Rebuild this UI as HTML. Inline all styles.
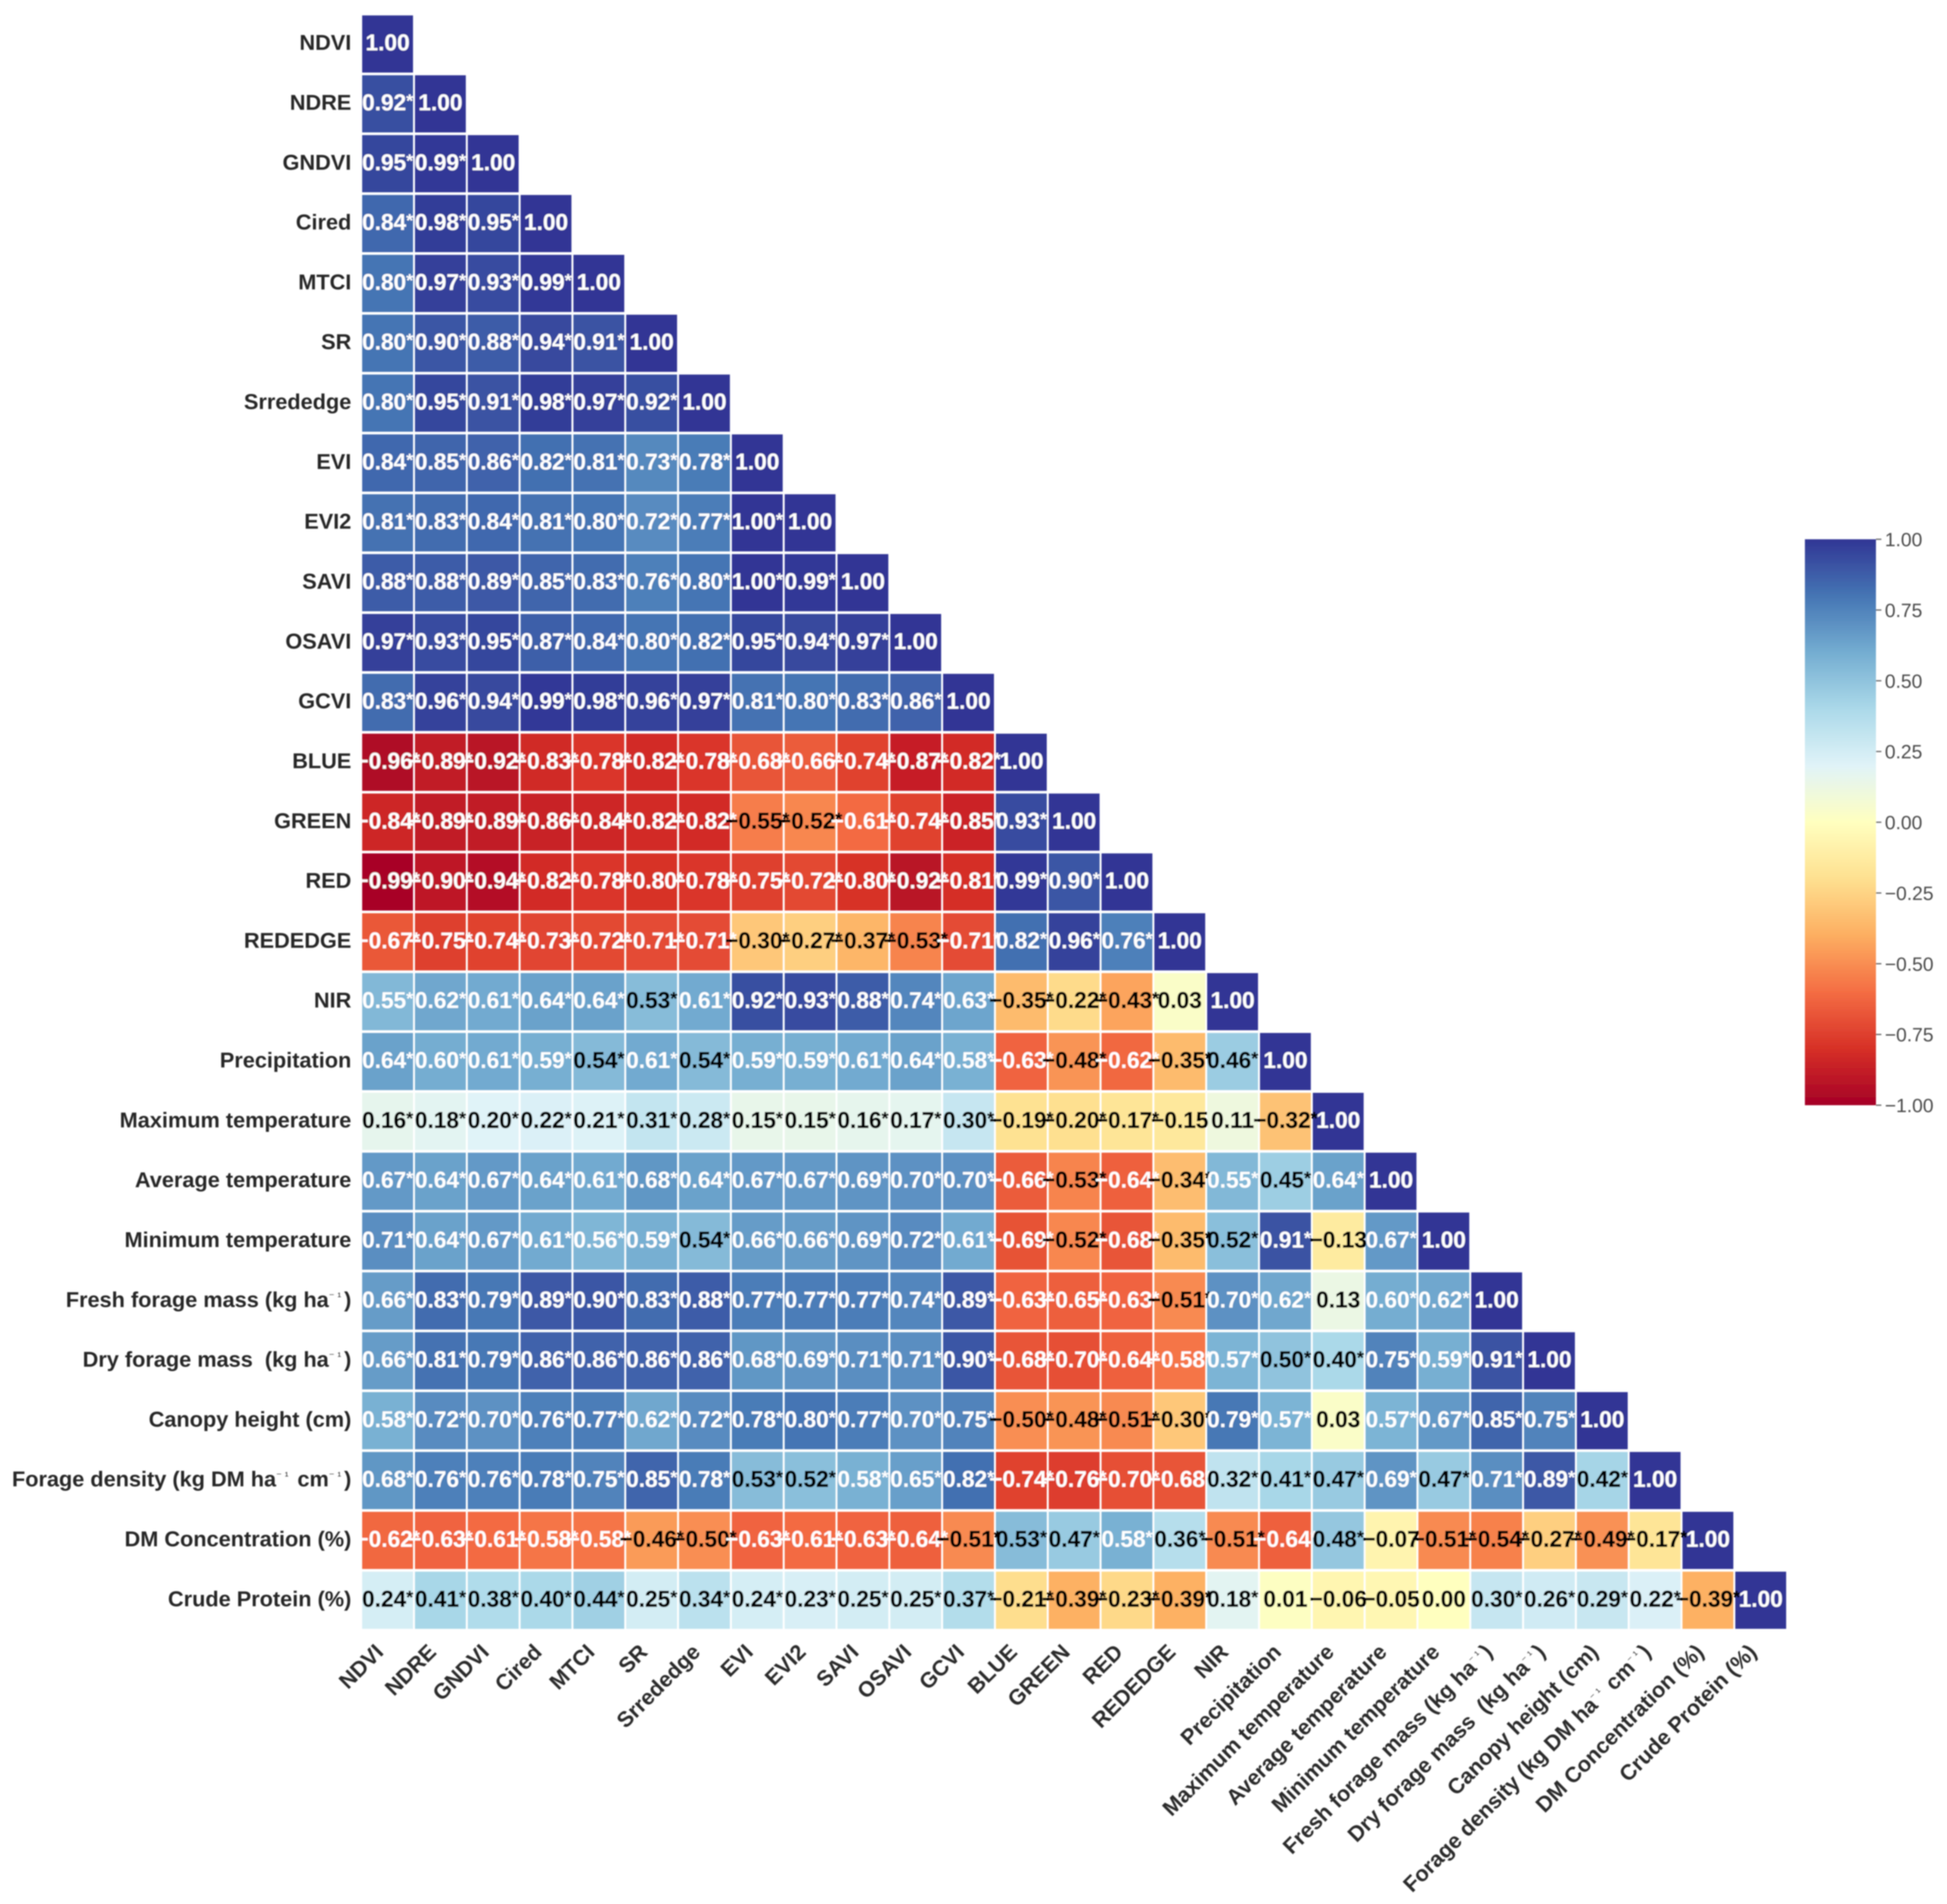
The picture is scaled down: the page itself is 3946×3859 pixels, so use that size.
<!DOCTYPE html>
<html lang="en">
<head>
<meta charset="utf-8">
<title>Correlation heatmap</title>
<style>
  html, body { margin: 0; padding: 0; background: #ffffff; }
  body { width: 3946px; height: 3859px; overflow: hidden; }
  svg { display: block; }
  text { font-family: "Liberation Sans", "DejaVu Sans", sans-serif; white-space: pre; }
  .val { font-size: 46px; font-weight: bold; text-anchor: middle; }
  .ylab { font-size: 44px; font-weight: bold; text-anchor: end; fill: #262626; }
  .xlab { font-size: 44px; font-weight: bold; text-anchor: end; fill: #2c2c2c; }
  .cbt { font-size: 39px; fill: #4a4a4a; }
</style>
</head>
<body>
<svg id="chart" xmlns="http://www.w3.org/2000/svg" width="3946" height="3859" viewBox="0 0 3946 3859">
  <defs>
    <filter id="soft" x="0" y="0" width="100%" height="100%" filterUnits="userSpaceOnUse" primitiveUnits="userSpaceOnUse">
      <feGaussianBlur stdDeviation="1.3"/>
    </filter>
    <linearGradient id="cbar-gradient" x1="0" y1="1" x2="0" y2="0"></linearGradient>
  </defs>
  <rect x="0" y="0" width="3946" height="3859" fill="#ffffff"/>
  <g id="root" filter="url(#soft)">
    <g id="cells"></g>
    <g id="values"></g>
    <g id="ylabels"></g>
    <g id="xlabels"></g>
    <g id="colorbar"></g>
  </g>
</svg>
<script>
var variables = ["NDVI","NDRE","GNDVI","Cired","MTCI","SR","Srrededge","EVI","EVI2","SAVI","OSAVI","GCVI","BLUE","GREEN","RED","REDEDGE","NIR","Precipitation","Maximum temperature","Average temperature","Minimum temperature","Fresh forage mass (kg ha\u207B\u00B9)","Dry forage mass  (kg ha\u207B\u00B9)","Canopy height (cm)","Forage density (kg DM ha\u207B\u00B9 cm\u207B\u00B9)","DM Concentration (%)","Crude Protein (%)"];

var correlations = [
[1],
[.92,1],
[.95,.99,1],
[.84,.98,.95,1],
[.80,.97,.93,.99,1],
[.80,.90,.88,.94,.91,1],
[.80,.95,.91,.98,.97,.92,1],
[.84,.85,.86,.82,.81,.73,.78,1],
[.81,.83,.84,.81,.80,.72,.77,1,1],
[.88,.88,.89,.85,.83,.76,.80,1,.99,1],
[.97,.93,.95,.87,.84,.80,.82,.95,.94,.97,1],
[.83,.96,.94,.99,.98,.96,.97,.81,.80,.83,.86,1],
[-.96,-.89,-.92,-.83,-.78,-.82,-.78,-.68,-.66,-.74,-.87,-.82,1],
[-.84,-.89,-.89,-.86,-.84,-.82,-.82,-.55,-.52,-.61,-.74,-.85,.93,1],
[-.99,-.90,-.94,-.82,-.78,-.80,-.78,-.75,-.72,-.80,-.92,-.81,.99,.90,1],
[-.67,-.75,-.74,-.73,-.72,-.71,-.71,-.30,-.27,-.37,-.53,-.71,.82,.96,.76,1],
[.55,.62,.61,.64,.64,.53,.61,.92,.93,.88,.74,.63,-.35,-.22,-.43,.03,1],
[.64,.60,.61,.59,.54,.61,.54,.59,.59,.61,.64,.58,-.63,-.48,-.62,-.35,.46,1],
[.16,.18,.20,.22,.21,.31,.28,.15,.15,.16,.17,.30,-.19,-.20,-.17,-.15,.11,-.32,1],
[.67,.64,.67,.64,.61,.68,.64,.67,.67,.69,.70,.70,-.66,-.53,-.64,-.34,.55,.45,.64,1],
[.71,.64,.67,.61,.56,.59,.54,.66,.66,.69,.72,.61,-.69,-.52,-.68,-.35,.52,.91,-.13,.67,1],
[.66,.83,.79,.89,.90,.83,.88,.77,.77,.77,.74,.89,-.63,-.65,-.63,-.51,.70,.62,.13,.60,.62,1],
[.66,.81,.79,.86,.86,.86,.86,.68,.69,.71,.71,.90,-.68,-.70,-.64,-.58,.57,.50,.40,.75,.59,.91,1],
[.58,.72,.70,.76,.77,.62,.72,.78,.80,.77,.70,.75,-.50,-.48,-.51,-.30,.79,.57,.03,.57,.67,.85,.75,1],
[.68,.76,.76,.78,.75,.85,.78,.53,.52,.58,.65,.82,-.74,-.76,-.70,-.68,.32,.41,.47,.69,.47,.71,.89,.42,1],
[-.62,-.63,-.61,-.58,-.58,-.46,-.50,-.63,-.61,-.63,-.64,-.51,.53,.47,.58,.36,-.51,-.64,.48,-.07,-.51,-.54,-.27,-.49,-.17,1],
[.24,.41,.38,.40,.44,.25,.34,.24,.23,.25,.25,.37,-.21,-.39,-.23,-.39,.18,.01,-.06,-.05,0,.30,.26,.29,.22,-.39,1]
];

var unstarredCells = [[16,15],[18,15],[18,16],[20,18],[21,18],[23,18],[25,19],[26,17],[26,18],[26,19],[26,20]];

var colorStops = ["#a50026","#d73027","#f46d43","#fdae61","#fee090","#ffffbf","#e0f3f8","#abd9e9","#74add1","#4575b4","#313695"];

var colorbarTicks = [1, 0.75, 0.5, 0.25, 0, -0.25, -0.5, -0.75, -1];

var NS = "http://www.w3.org/2000/svg";
var plot = { left: 732, right: 3622, top: 28.5, bottom: 3304 };
var bar = { left: 3658, right: 3802, top: 1093, bottom: 2240 };
var count = variables.length;
var colW = (plot.right - plot.left) / count;
var rowH = (plot.bottom - plot.top) / count;

function xBand(i) { return plot.left + i * colW; }
function yBand(i) { return plot.top + i * rowH; }
function barY(v) { return bar.top + (1 - v) / 2 * (bar.bottom - bar.top); }

function hexToRgb(h) {
  return [parseInt(h.substr(1, 2), 16), parseInt(h.substr(3, 2), 16), parseInt(h.substr(5, 2), 16)];
}
function colorFor(v) {
  var t = (Math.max(-1, Math.min(1, v)) + 1) / 2 * (colorStops.length - 1);
  var i = Math.min(colorStops.length - 2, Math.floor(t));
  var f = t - i;
  var a = hexToRgb(colorStops[i]);
  var b = hexToRgb(colorStops[i + 1]);
  return "rgb(" + Math.round(a[0] + (b[0] - a[0]) * f) + "," + Math.round(a[1] + (b[1] - a[1]) * f) + "," + Math.round(a[2] + (b[2] - a[2]) * f) + ")";
}
function formatValue(v) {
  var s = Math.abs(v).toFixed(2);
  return v < 0 ? "\u2212" + s : s;
}
function isUnstarred(r, c) {
  return r === c || unstarredCells.some(function (p) { return p[0] === r && p[1] === c; });
}
function slug(s) {
  return s.replace(/[\u207B\u00B9]/g, "").toLowerCase().replace(/[^a-z0-9]+/g, "-").replace(/^-|-$/g, "");
}
function svgEl(tag, parent, attrs) {
  var el = document.createElementNS(NS, tag);
  for (var k in attrs) el.setAttribute(k, attrs[k]);
  parent.appendChild(el);
  return el;
}
function fillLabel(el, name) {
  var parts = name.split("\u207B\u00B9");
  parts.forEach(function (part, i) {
    var run = svgEl("tspan", el, i > 0 ? { dy: 14 } : {});
    run.textContent = part;
    if (i < parts.length - 1) {
      var sup = svgEl("tspan", el, { dy: -14, style: "font-size:22px;font-weight:normal;letter-spacing:6px" });
      sup.textContent = "\u207B\u00B9";
    }
  });
}

var cellsG = document.getElementById("cells");
var valuesG = document.getElementById("values");
var yG = document.getElementById("ylabels");
var xG = document.getElementById("xlabels");
var cbG = document.getElementById("colorbar");

correlations.forEach(function (row, r) {
  row.forEach(function (v, c) {
    var rect = svgEl("rect", cellsG, {
      x: xBand(c) + 2,
      y: yBand(r) + 2.75,
      width: colW - 4,
      height: rowH - 5.5,
      fill: colorFor(v)
    });
    
    
  });
});

correlations.forEach(function (row, r) {
  row.forEach(function (v, c) {
    var isWhite = (v >= 0.55 || v <= -0.57);
    var label = svgEl("text", valuesG, {
      "class": "val",
      x: xBand(c) + colW / 2,
      y: yBand(r) + rowH / 2 + 13,
      fill: isWhite ? "#ffffff" : "#000000",
      stroke: isWhite ? "none" : "#000000",
      "stroke-width": isWhite ? 0 : 0.7
    });
    var digits = svgEl("tspan", label, {});
    digits.textContent = formatValue(v);
    if (!isUnstarred(r, c)) {
      var star = svgEl("tspan", label, { dy: -7, style: "font-size:36px" });
      star.textContent = "*";
    }
    
    
  });
});

variables.forEach(function (name, i) {
  var yl = svgEl("text", yG, {
    "class": "ylab",
    x: 712,
    y: yBand(i) + rowH / 2 + 12
  });
  fillLabel(yl, name);
  
  

  var xl = svgEl("text", xG, {
    "class": "xlab",
    transform: "translate(" + (xBand(i) + colW / 2 - 6) + ",3351) rotate(-45)"
  });
  fillLabel(xl, name);
  
  
});

var gradient = document.getElementById("cbar-gradient");
colorStops.forEach(function (col, i) {
  svgEl("stop", gradient, { offset: (i / (colorStops.length - 1)), "stop-color": col });
});

var barRect = svgEl("rect", cbG, {
  x: bar.left,
  y: bar.top,
  width: bar.right - bar.left,
  height: bar.bottom - bar.top,
  fill: "url(#cbar-gradient)"
});



colorbarTicks.forEach(function (t) {
  var tick = svgEl("line", cbG, {
    x1: bar.right,
    x2: bar.right + 11,
    y1: barY(t),
    y2: barY(t),
    stroke: "#666666",
    "stroke-width": 2.5
  });
  
  

  var lab = svgEl("text", cbG, {
    "class": "cbt",
    x: 3820,
    y: barY(t) + 14
  });
  lab.textContent = formatValue(t);
  
  
});
</script>
</body>
</html>
